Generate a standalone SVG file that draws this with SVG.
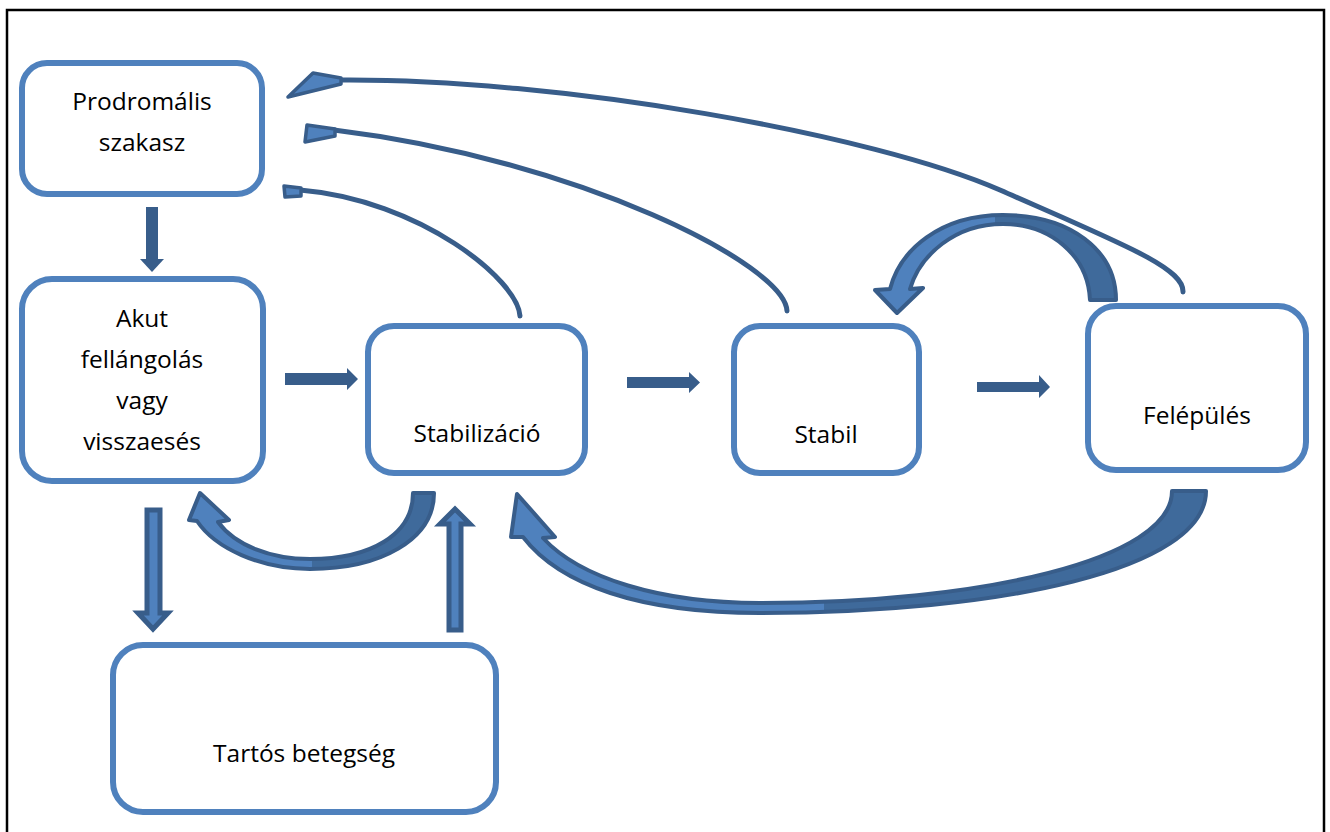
<svg xmlns="http://www.w3.org/2000/svg" width="1330" height="832" viewBox="0 0 1330 832">
<defs>
<style>
.node{fill:#fff;stroke:#4F81BD;stroke-width:6}
.t{font-family:"Open Sans",Lato,"Liberation Sans",sans-serif;font-size:24.5px;fill:#000;text-anchor:middle}
.solid{fill:#385D8A}
.outl{fill:#4F81BD;stroke:#385D8A;stroke-width:5;stroke-linejoin:miter}
.curv{stroke:#385D8A;stroke-width:4;stroke-linejoin:round}
.thin{fill:none;stroke:#385D8A;stroke-width:5;stroke-linecap:round}
.head{fill:#4F81BD;stroke:#385D8A;stroke-width:3.5;stroke-linejoin:round}
</style>
<linearGradient id="g1" x1="0" y1="0" x2="1" y2="0">
<stop offset="0.5" stop-color="#4F81BD"/><stop offset="0.5" stop-color="#3F6A9B"/>
</linearGradient>
<linearGradient id="g2" x1="0" y1="0" x2="1" y2="0">
<stop offset="0.45" stop-color="#4F81BD"/><stop offset="0.45" stop-color="#3F6A9B"/>
</linearGradient>
</defs>
<rect x="0" y="0" width="1330" height="832" fill="#fff"/>
<path d="M7 840 V10 H1324 V840" fill="none" stroke="#000" stroke-width="2.5"/>

<g id="connectors">
<rect class="solid" x="146" y="207" width="12" height="52"/>
<polygon class="solid" points="140,259 164,259 152,272"/>
<polygon class="solid" points="285,373 347,373 347,368 358,379 347,390 347,385 285,385"/>
<polygon class="solid" points="627,377 689,377 689,372 700,382.5 689,393 689,388 627,388"/>
<polygon class="solid" points="977,382 1039,382 1039,375 1050,387 1039,398 1039,392 977,392"/>
<polygon class="outl" points="147,510 160,510 160,613 168,613 153,629 138,613 147,613"/>
<polygon class="outl" points="449,630 461,630 461,524 470,524 455,509 440,524 449,524"/>

<path class="curv" fill="url(#g1)" d="M413 493 L434 493 C434 540 380 569 310 569 C260 569 215 548 197 521 L189 520 L200 493 L229 520 L218 522 C235 545 270 559 310 559 C370 559 413 535 413 493 Z"/>
<path class="curv" fill="url(#g2)" d="M1172 491 L1206 491 C1206 570 1000 613 760 613 C640 613 560 585 523 537 L511 537 L517 494 L555 537 L543 538 C580 578 660 603 760 603 C980 603 1172 560 1172 491 Z"/>
<path class="curv" fill="url(#g1)" d="M1090 300 L1116 300 C1116 250 1070 215 1003 215 C940 215 900 250 890 289 L875 290 L897 313 L923 288 L910 289 C920 255 955 224 1003 224 C1050 224 1088 255 1090 300 Z"/>

<path class="thin" d="M520 316 C518 280 420 200 300 190"/>
<polygon class="head" points="284,186 301,188 301,196 285,197"/>
<path class="thin" d="M787 311 C785 265 580 160 334 130"/>
<polygon class="head" points="307,125 305,142 335,136 335,129"/>
<path class="thin" d="M1183 292 C1184 268 1125 245 1000 190 C875 135 560 78 338 80"/>
<polygon class="head" points="288,97 313,73 341,78 341,84"/>
</g>

<g id="n-prodromalis">
<rect class="node" x="22" y="63" width="240" height="131" rx="25"/>
<text class="t" x="142" y="110">Prodromális</text>
<text class="t" x="142" y="151">szakasz</text>
</g>
<g id="n-akut">
<rect class="node" x="22" y="279" width="241" height="202" rx="30"/>
<text class="t" x="142" y="327">Akut</text>
<text class="t" x="142" y="368">fellángolás</text>
<text class="t" x="142" y="409">vagy</text>
<text class="t" x="142" y="450">visszaesés</text>
</g>
<g id="n-stabilizacio">
<rect class="node" x="368" y="326" width="217" height="147" rx="26"/>
<text class="t" x="477" y="442">Stabilizáció</text>
</g>
<g id="n-stabil">
<rect class="node" x="734" y="326" width="185" height="147" rx="26"/>
<text class="t" x="826" y="443">Stabil</text>
</g>
<g id="n-felepules">
<rect class="node" x="1088" y="306" width="218" height="164" rx="28"/>
<text class="t" x="1197" y="424">Felépülés</text>
</g>
<g id="n-tartos">
<rect class="node" x="113" y="645" width="383" height="167" rx="30"/>
<text class="t" x="304" y="762">Tartós betegség</text>
</g>
</svg>
